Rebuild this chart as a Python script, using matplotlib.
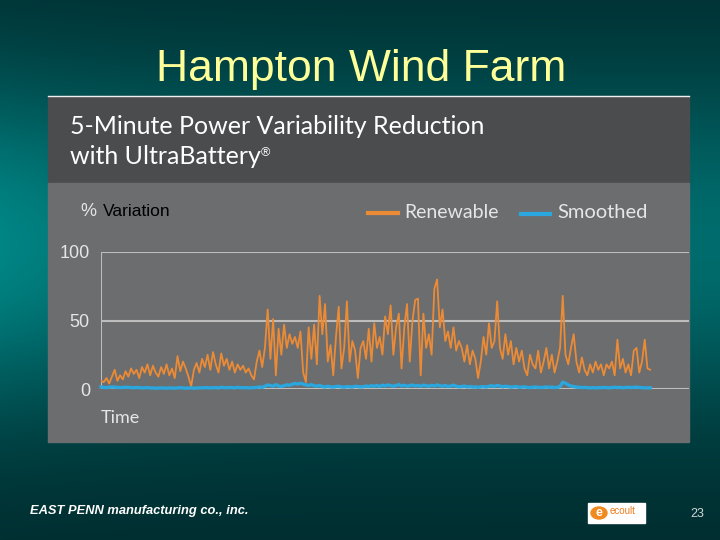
import matplotlib
matplotlib.use('Agg')

import matplotlib.pyplot as plt
from matplotlib.patches import Rectangle, Circle
from matplotlib.text import Annotation
import numpy as np


# % variation per 5-minute interval
renewable = [
    6, 5, 8, 4, 9, 14, 6, 10, 7, 13, 9, 15, 11, 14, 8, 16, 12, 18, 10, 17,
    12, 9, 16, 11, 18, 10, 15, 8, 24, 13, 20, 15, 9, 2, 14, 19, 12, 22, 16, 25,
    14, 27, 18, 12, 26, 17, 22, 14, 20, 12, 18, 14, 17, 12, 15, 10, 7, 20, 28, 16,
    30, 58, 22, 51, 10, 44, 25, 47, 30, 40, 33, 38, 30, 42, 12, 5, 45, 22, 47, 18,
    68, 40, 62, 20, 32, 10, 38, 60, 15, 30, 64, 20, 35, 28, 8, 30, 35, 22, 44, 20,
    48, 30, 38, 25, 53, 40, 61, 25, 45, 55, 15, 45, 62, 20, 50, 65, 66, 10, 55, 30,
    40, 25, 73, 80, 45, 58, 35, 42, 30, 45, 28, 35, 30, 20, 32, 18, 28, 22, 8, 20,
    38, 25, 48, 30, 35, 64, 30, 22, 40, 25, 35, 18, 30, 20, 28, 15, 10, 25, 18, 15,
    28, 12, 20, 30, 15, 25, 12, 20, 30, 68, 25, 18, 30, 40, 20, 12, 23, 14, 10, 18,
    12, 20, 14, 18, 10, 18, 15, 20, 10, 36, 15, 22, 12, 18, 10, 28, 30, 12, 20, 36,
    15, 14,
]
smoothed = [
    1.5, 1.2, 1.0, 1.3, 1.5, 1.4, 1.2, 1.0, 1.1, 1.3, 1.2, 1.0, 0.9, 1.1, 1.0, 0.8, 0.9, 1.0, 0.8, 0.7,
    0.6, 0.7, 0.8, 0.7, 0.6, 0.8, 0.7, 0.6, 0.8, 1.0, 0.7, 0.6, 0.7, 0.8, 0.6, 0.7, 0.9, 0.8, 1.0, 0.9,
    0.8, 1.0, 0.9, 0.8, 1.2, 1.0, 0.9, 1.1, 1.0, 0.8, 1.2, 1.0, 0.9, 1.0, 0.8, 0.9, 1.0, 1.2, 1.5, 1.2,
    2.0, 3.0, 2.5, 2.0, 3.2, 2.2, 1.8, 2.5, 3.0, 2.8, 3.5, 4.0, 3.6, 4.2, 3.5, 3.0, 2.6, 3.2, 2.4, 2.0,
    2.6, 1.8, 1.5, 2.0, 1.6, 1.4, 1.8, 2.0, 1.5, 1.3, 1.8, 1.6, 1.4, 2.0, 1.8, 1.5, 1.7, 2.2, 1.8, 2.4,
    2.0, 2.6, 1.8, 2.8, 2.2, 3.0, 2.4, 2.0, 2.6, 3.2, 2.2, 2.8, 2.0, 2.4, 3.0, 2.2, 2.6, 2.0, 2.8, 2.4,
    2.0, 2.6, 2.2, 3.0, 2.4, 2.0, 2.6, 1.8, 2.2, 2.8, 2.0, 1.6, 1.8, 2.2, 1.5, 1.8, 1.4, 1.6, 1.2, 1.6,
    1.8, 1.4, 2.0, 2.4, 1.8, 2.6, 2.2, 1.6, 2.0, 1.8, 1.4, 1.6, 1.8, 1.2, 1.4, 1.6, 1.2, 1.0, 1.3, 1.5,
    1.2, 1.0, 1.3, 1.5, 1.2, 1.4, 1.0, 1.2, 1.8, 5.0, 4.2, 3.0, 2.2, 1.8, 1.4, 1.2, 1.0, 1.2, 1.0, 0.8,
    1.0, 0.8, 1.0, 0.9, 1.2, 1.0, 0.8, 1.1, 1.3, 1.0, 1.2, 0.9, 1.1, 1.3, 1.0, 1.2, 1.4, 1.1, 1.0, 0.8,
    0.8, 0.9,
]
y_ticks = [0, 50, 100]

ORANGE = '#ec8b36'
BLUE = '#2aa7de'
LIGHT = '#e6e6e6'
W, H = 720.0, 540.0


def fx(x):
    return x / W


def fy(y):
    return 1 - y / H


plt.rcParams['font.family'] = ['Liberation Sans', 'DejaVu Sans']

fig = plt.figure(figsize=(7.2, 5.4), dpi=100)

# slide background: dark teal with a lighter band in the middle
bg = fig.add_axes([0, 0, 1, 1])
bg.axis('off')
yy, xx = np.mgrid[0:1:200j, 0:1:200j]
glow = np.exp(-((yy - 0.45) / 0.32) ** 2) * (0.72 + 0.28 * np.exp(-xx / 0.2))
dark = np.array([0.0, 0.17, 0.18])
bright = np.array([0.0, 0.52, 0.52])
bg.imshow(dark + glow[..., None] * (bright - dark), extent=[0, 1, 0, 1],
          aspect='auto', origin='upper')
bg.set_xlim(0, 1)
bg.set_ylim(0, 1)

fig.text(fx(361), fy(70), 'Hampton Wind Farm', color='#ffff99', fontsize=32,
         ha='center', va='center')

# embedded chart panel
fig.add_artist(Rectangle((fx(48), fy(183)), fx(641), 87 / H, color='#4b4c4e',
                         transform=fig.transFigure, zorder=1))
fig.add_artist(Rectangle((fx(48), fy(442)), fx(641), 259 / H, color='#6c6d6f',
                         transform=fig.transFigure, zorder=1))
fig.add_artist(plt.Line2D([fx(48), fx(689)], [fy(96), fy(96)], color='#f0f0f0',
                          lw=1, transform=fig.transFigure, zorder=2))

fig.text(fx(70), fy(127), '5-Minute Power Variability Reduction', color='white',
         fontsize=18, family=['Lato', 'DejaVu Sans'], va='center')
t = fig.text(fx(70), fy(157), 'with UltraBattery', color='white',
             fontsize=18, family=['Lato', 'DejaVu Sans'], va='center')
fig.add_artist(Annotation('®', xy=(1.0, 0.92), xycoords=t, color='white',
                          fontsize=9, va='top', ha='left', zorder=6))

fig.text(fx(80), fy(212), '%', color=LIGHT, fontsize=13, va='center')
fig.text(fx(103), fy(212), 'Variation', color='black', fontsize=12.5, va='center')
fig.text(fx(101), fy(418), 'Time', color=LIGHT, fontsize=13, va='center',
         family=['Lato', 'DejaVu Sans'])

# legend drawn like the original
fig.add_artist(plt.Line2D([fx(368), fx(398)], [fy(213), fy(213)], color=ORANGE,
                          lw=3, transform=fig.transFigure, zorder=3))
fig.text(fx(404), fy(212), 'Renewable', color=LIGHT, fontsize=14, va='center',
         family=['Lato', 'DejaVu Sans'])
fig.add_artist(plt.Line2D([fx(521), fx(550)], [fy(214), fy(214)], color=BLUE,
                          lw=3, transform=fig.transFigure, zorder=3))
fig.text(fx(557), fy(213), 'Smoothed', color=LIGHT, fontsize=14.5, va='center',
         family=['Lato', 'DejaVu Sans'])

ax = fig.add_axes([fx(101), fy(389), 588 / W, 137 / H])
ax.set_zorder(5)
ax.set_facecolor('none')
n = len(renewable)
x = np.arange(n)
ax.plot(x, renewable, color=ORANGE, lw=1.3, zorder=3)
ax.plot(np.arange(len(smoothed)), smoothed, color=BLUE, lw=2.4, zorder=4,
        clip_on=False)
ax.set_xlim(0, (n - 1) / 0.934)
ax.set_ylim(0, 100)
for v in y_ticks:
    ax.axhline(v, color='#bdbdbd', lw=1.5, zorder=1)
ax.axvline(0, color='#bdbdbd', lw=1.5, zorder=1)
ax.set_yticks(y_ticks)
ax.set_yticklabels([str(v) for v in y_ticks], color=LIGHT, fontsize=13)
ax.tick_params(axis='y', length=0, pad=8)
ax.set_xticks([])
for s in ax.spines.values():
    s.set_visible(False)

# footer
fig.text(fx(30), fy(511), 'EAST PENN manufacturing co., inc.', color='white',
         fontsize=9.3, fontweight='bold', style='italic', va='center')
fig.add_artist(Rectangle((fx(588), fy(523)), 57 / W, 20 / H, color='white',
                         transform=fig.transFigure, zorder=2))
fig.add_artist(Circle((fx(599), fy(513)), 8 / W, color='#f08a1e',
                      transform=fig.transFigure, zorder=3))
fig.text(fx(599), fy(513), 'e', color='white', fontsize=9, fontweight='bold',
         ha='center', va='center', zorder=4)
fig.text(fx(610), fy(511), 'ecoult', color='#e87a1a', fontsize=7,
         va='center', zorder=4)
fig.text(fx(697), fy(514), '23', color='#cfd8d8', fontsize=9, ha='center',
         va='center')

fig.savefig('out.png', dpi=100)
